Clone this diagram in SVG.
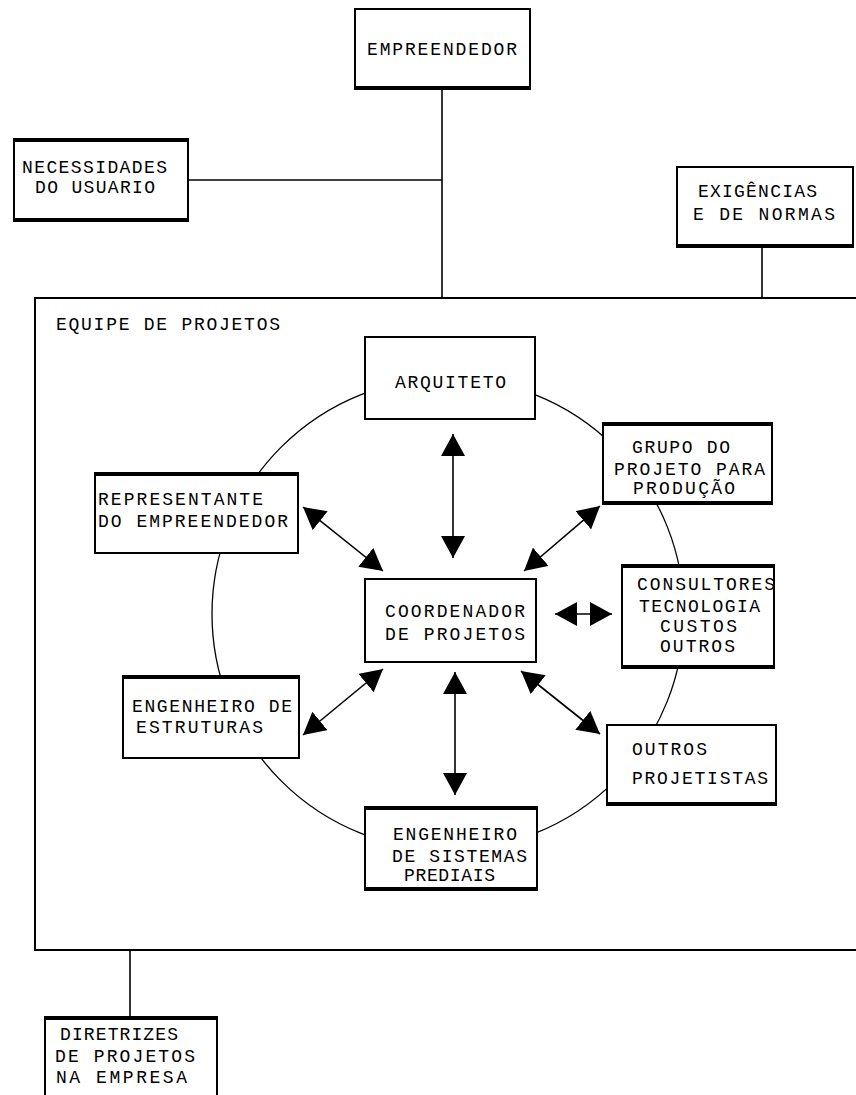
<svg xmlns="http://www.w3.org/2000/svg" width="856" height="1095" viewBox="0 0 856 1095">
  <style>
    .box { fill: #fff; stroke: #000; stroke-width: 2; }
    .thick { stroke: #000; stroke-width: 4; }
    .wire { fill: none; stroke: #000; stroke-width: 1.6; }
    .ring { fill: none; stroke: #000; stroke-width: 1.3; }
    .arrow { stroke: #000; stroke-width: 1.6; marker-start: url(#head); marker-end: url(#head); }
    text { font-family: "Liberation Mono", "DejaVu Sans Mono", monospace; font-size: 18px; fill: #000; }
  </style>
  <defs>
    <marker id="head" viewBox="0 0 22 24" refX="22" refY="12" markerWidth="22" markerHeight="24" markerUnits="userSpaceOnUse" orient="auto-start-reverse">
      <path d="M0,0 L22,12 L0,24 z" fill="#000"/>
    </marker>
  </defs>
  <rect width="856" height="1095" fill="#fff"/>

  <!-- external links -->
  <g id="connectors">
    <line class="wire" x1="442" y1="89" x2="442" y2="298"/>
    <line class="wire" x1="188" y1="180" x2="442" y2="180"/>
    <line class="wire" x1="762" y1="247" x2="762" y2="298"/>
    <line class="wire" x1="130" y1="950" x2="130" y2="1017"/>
  </g>

  <g id="empreendedor">
    <rect class="box" x="355" y="9" width="175" height="80"/>
    <line class="thick" x1="354" y1="88" x2="531" y2="88"/>
    <text x="367" y="55" textLength="150" lengthAdjust="spacing">EMPREENDEDOR</text>
  </g>

  <g id="necessidades">
    <rect class="box" x="14" y="139" width="174" height="82"/>
    <line class="thick" x1="13" y1="140" x2="189" y2="140"/>
    <line class="thick" x1="13" y1="220" x2="189" y2="220"/>
    <text x="22" y="173" textLength="145" lengthAdjust="spacing">NECESSIDADES</text>
    <text x="35" y="193" textLength="120" lengthAdjust="spacing">DO USUARIO</text>
  </g>

  <g id="exigencias">
    <rect class="box" x="677" y="167" width="176" height="80"/>
    <line class="thick" x1="676" y1="246" x2="854" y2="246"/>
    <text x="698" y="197" textLength="119" lengthAdjust="spacing">EXIGÊNCIAS</text>
    <text x="693" y="220" textLength="142" lengthAdjust="spacing">E DE NORMAS</text>
  </g>

  <!-- project team frame with ring of participants -->
  <g id="equipe">
    <rect class="box" x="35" y="298" width="830" height="652"/>
    <text x="56" y="330" textLength="224" lengthAdjust="spacing">EQUIPE DE PROJETOS</text>
    <circle class="ring" cx="448" cy="614" r="236"/>
  </g>

  <g id="diretrizes">
    <rect class="box" x="45" y="1017" width="172" height="90"/>
    <line class="thick" x1="44" y1="1018" x2="218" y2="1018"/>
    <text x="60" y="1040" textLength="118" lengthAdjust="spacing">DIRETRIZES</text>
    <text x="55" y="1062" textLength="140" lengthAdjust="spacing">DE PROJETOS</text>
    <text x="56" y="1083" textLength="131" lengthAdjust="spacing">NA EMPRESA</text>
  </g>

  <g id="arquiteto">
    <rect class="box" x="365" y="337" width="170" height="82"/>
    <text x="395" y="388" textLength="111" lengthAdjust="spacing">ARQUITETO</text>
  </g>

  <g id="grupo">
    <rect class="box" x="603" y="423" width="169" height="81"/>
    <line class="thick" x1="602" y1="424" x2="773" y2="424"/>
    <line class="thick" x1="602" y1="503" x2="773" y2="503"/>
    <text x="632" y="453" textLength="98" lengthAdjust="spacing">GRUPO DO</text>
    <text x="614" y="475" textLength="151" lengthAdjust="spacing">PROJETO PARA</text>
    <text x="633" y="494" textLength="102" lengthAdjust="spacing">PRODUÇÃO</text>
  </g>

  <g id="representante">
    <rect class="box" x="95" y="473" width="203" height="80"/>
    <line class="thick" x1="94" y1="474" x2="299" y2="474"/>
    <text x="98" y="505" textLength="165" lengthAdjust="spacing">REPRESENTANTE</text>
    <text x="98" y="527" textLength="190" lengthAdjust="spacing">DO EMPREENDEDOR</text>
  </g>

  <g id="consultores">
    <rect class="box" x="622" y="565" width="152" height="103"/>
    <line class="thick" x1="621" y1="566" x2="775" y2="566"/>
    <line class="thick" x1="621" y1="667" x2="775" y2="667"/>
    <text x="637" y="590" textLength="138" lengthAdjust="spacing">CONSULTORES</text>
    <text x="639" y="612" textLength="121" lengthAdjust="spacing">TECNOLOGIA</text>
    <text x="660" y="632" textLength="77" lengthAdjust="spacing">CUSTOS</text>
    <text x="660" y="652" textLength="75" lengthAdjust="spacing">OUTROS</text>
  </g>

  <g id="coordenador">
    <rect class="box" x="365" y="579" width="171" height="83"/>
    <text x="385" y="617" textLength="140" lengthAdjust="spacing">COORDENADOR</text>
    <text x="385" y="640" textLength="140" lengthAdjust="spacing">DE PROJETOS</text>
  </g>

  <g id="estruturas">
    <rect class="box" x="123" y="676" width="176" height="82"/>
    <line class="thick" x1="122" y1="677" x2="300" y2="677"/>
    <text x="132" y="712" textLength="160" lengthAdjust="spacing">ENGENHEIRO DE</text>
    <text x="136" y="733" textLength="127" lengthAdjust="spacing">ESTRUTURAS</text>
  </g>

  <g id="outros">
    <rect class="box" x="607" y="725" width="169" height="80"/>
    <line class="thick" x1="606" y1="804" x2="777" y2="804"/>
    <text x="632" y="755" textLength="75" lengthAdjust="spacing">OUTROS</text>
    <text x="632" y="784" textLength="136" lengthAdjust="spacing">PROJETISTAS</text>
  </g>

  <g id="sistemas">
    <rect class="box" x="365" y="807" width="172" height="83"/>
    <line class="thick" x1="364" y1="808" x2="538" y2="808"/>
    <line class="thick" x1="364" y1="889" x2="538" y2="889"/>
    <text x="393" y="840" textLength="124" lengthAdjust="spacing">ENGENHEIRO</text>
    <text x="392" y="862" textLength="135" lengthAdjust="spacing">DE SISTEMAS</text>
    <text x="404" y="881" textLength="91" lengthAdjust="spacing">PREDIAIS</text>
  </g>

  <!-- two-way links around the coordinator -->
  <g id="links">
    <line class="arrow" x1="453" y1="434" x2="453" y2="558"/>
    <line class="arrow" x1="455" y1="672" x2="455" y2="795"/>
    <line class="arrow" x1="555" y1="614" x2="612" y2="614"/>
    <line class="arrow" x1="303" y1="507" x2="383" y2="571"/>
    <line class="arrow" x1="524" y1="571" x2="600" y2="506"/>
    <line class="arrow" x1="383" y1="669" x2="303" y2="735"/>
    <line class="arrow" x1="521" y1="671" x2="600" y2="734"/>
  </g>
</svg>
